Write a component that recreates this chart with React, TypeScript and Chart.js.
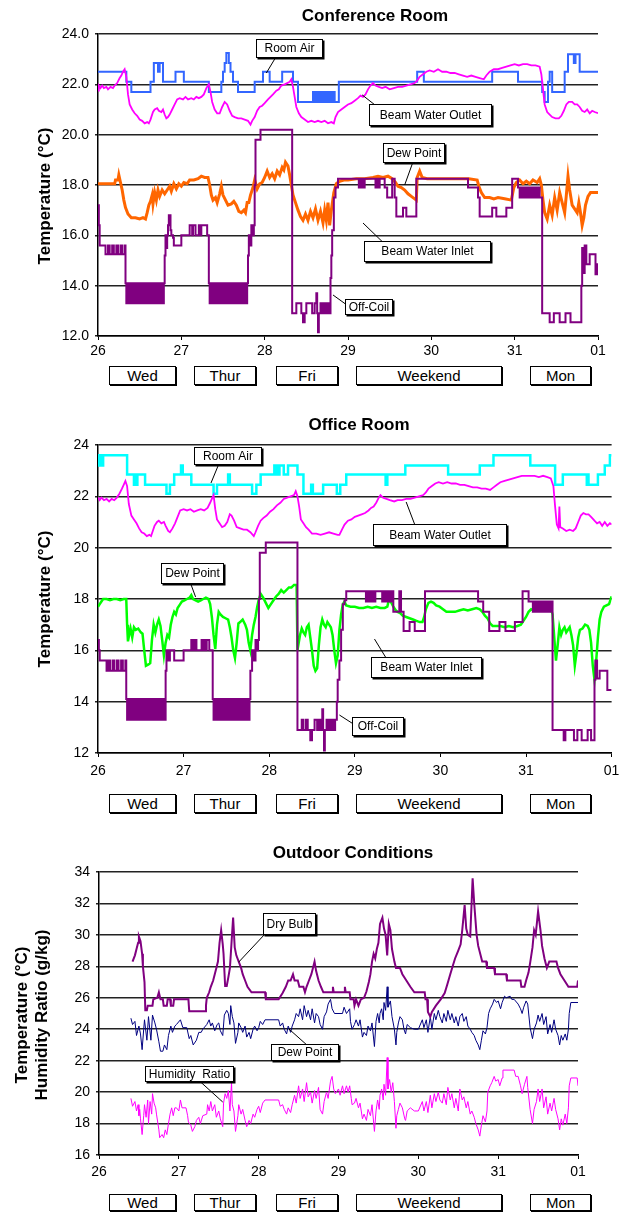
import React, { useEffect, useRef } from "react";
import { Chart, registerables } from "chart.js";

Chart.register(...registerables);

type P = [number, number];

const FONT = "'Liberation Sans', Arial, Helvetica, sans-serif";

const xTickLabels = ["26", "27", "28", "29", "30", "31", "01"];
const dayLabels = ["Wed", "Thur", "Fri", "Weekend", "Mon"];

// ---------------- Conference Room ----------------
const confRoomAir: P[] = [
  [26.0, 22.5], [26.34, 22.1], [26.4, 21.7], [26.63, 22.1], [26.67, 22.85], [26.72, 22.5], [26.74, 22.85], [26.78, 22.1],
  [26.93, 22.5], [27.03, 22.1], [27.33, 21.7], [27.48, 22.1], [27.5, 22.5], [27.52, 22.85], [27.54, 23.25], [27.57, 22.85],
  [27.59, 22.5], [27.62, 22.1], [27.68, 21.7], [27.88, 22.1], [27.98, 22.5], [28.06, 22.1], [28.21, 22.5], [28.34, 22.1],
  [28.4, 21.3], [28.58, 21.7], [28.6, 21.3], [28.62, 21.7], [28.64, 21.3], [28.66, 21.7], [28.68, 21.3], [28.7, 21.7],
  [28.72, 21.3], [28.74, 21.7], [28.76, 21.3], [28.78, 21.7], [28.8, 21.3], [28.82, 21.7], [28.84, 21.3], [28.89, 22.1],
  [29.83, 22.5], [29.91, 22.1], [30.73, 22.5], [31.04, 22.1], [31.33, 21.7], [31.36, 21.3], [31.4, 22.1], [31.42, 22.5],
  [31.45, 21.7], [31.6, 22.5], [31.64, 23.2], [31.71, 22.85], [31.73, 23.2], [31.78, 22.5], [32.0, 22.5],
];

const confOutlet: P[] = [
  [26.0, 21.75], [26.01, 21.95], [26.03, 21.85], [26.05, 21.95], [26.07, 21.85], [26.1, 21.9], [26.12, 21.8], [26.15, 21.9],
  [26.18, 21.85], [26.2, 21.95], [26.23, 22.05], [26.26, 22.25], [26.28, 22.35], [26.3, 22.5], [26.32, 22.6], [26.34, 22.3],
  [26.36, 21.6], [26.38, 21.2], [26.41, 21.0], [26.44, 20.85], [26.47, 20.75], [26.5, 20.6], [26.53, 20.55], [26.56, 20.45],
  [26.59, 20.5], [26.61, 20.45], [26.63, 20.6], [26.66, 20.9], [26.68, 21.0], [26.71, 21.05], [26.73, 20.95], [26.76, 20.9],
  [26.78, 21.0], [26.8, 20.8], [26.82, 20.65], [26.84, 20.7], [26.86, 20.8], [26.89, 21.0], [26.92, 21.2], [26.95, 21.4],
  [26.98, 21.45], [27.02, 21.4], [27.05, 21.5], [27.08, 21.4], [27.12, 21.45], [27.15, 21.4], [27.18, 21.5], [27.21, 21.45],
  [27.24, 21.5], [27.27, 21.6], [27.3, 21.85], [27.33, 22.0], [27.35, 21.7], [27.37, 21.3], [27.4, 21.0], [27.43, 20.85],
  [27.46, 20.85], [27.49, 21.1], [27.52, 21.3], [27.55, 21.2], [27.58, 20.95], [27.61, 20.75], [27.64, 20.7], [27.68, 20.65],
  [27.72, 20.65], [27.76, 20.6], [27.8, 20.55], [27.83, 20.4], [27.85, 20.55], [27.88, 20.7], [27.91, 20.95], [27.94, 21.1],
  [27.97, 21.15], [28.0, 21.25], [28.04, 21.4], [28.07, 21.5], [28.1, 21.6], [28.14, 21.75], [28.17, 21.8], [28.2, 21.95],
  [28.24, 22.0], [28.27, 22.05], [28.3, 22.1], [28.32, 22.2], [28.34, 21.9], [28.36, 21.5], [28.38, 21.1], [28.41, 20.85],
  [28.44, 20.7], [28.48, 20.6], [28.52, 20.5], [28.56, 20.55], [28.6, 20.5], [28.64, 20.55], [28.68, 20.5], [28.72, 20.55],
  [28.76, 20.45], [28.8, 20.5], [28.83, 20.45], [28.85, 20.7], [28.88, 20.9], [28.92, 21.0], [28.96, 21.1], [29.0, 21.2],
  [29.04, 21.25], [29.08, 21.35], [29.12, 21.45], [29.15, 21.55], [29.18, 21.5], [29.21, 21.6], [29.24, 21.8], [29.27, 21.95],
  [29.3, 22.05], [29.33, 21.95], [29.37, 21.9], [29.41, 21.85], [29.45, 21.9], [29.5, 21.8], [29.55, 21.85], [29.6, 21.9],
  [29.65, 21.9], [29.7, 21.95], [29.75, 22.0], [29.8, 22.05], [29.83, 22.15], [29.86, 22.3], [29.9, 22.4], [29.94, 22.5],
  [29.98, 22.55], [30.03, 22.5], [30.08, 22.6], [30.13, 22.5], [30.18, 22.5], [30.23, 22.45], [30.28, 22.45], [30.33, 22.4],
  [30.38, 22.35], [30.43, 22.3], [30.48, 22.35], [30.53, 22.3], [30.58, 22.25], [30.63, 22.2], [30.66, 22.35], [30.7, 22.5],
  [30.75, 22.6], [30.8, 22.6], [30.85, 22.65], [30.9, 22.7], [30.95, 22.75], [31.0, 22.8], [31.05, 22.75], [31.1, 22.8],
  [31.15, 22.8], [31.2, 22.75], [31.25, 22.75], [31.3, 22.7], [31.32, 22.4], [31.34, 21.8], [31.36, 21.2], [31.39, 20.9],
  [31.42, 20.8], [31.45, 20.7], [31.49, 20.65], [31.53, 20.65], [31.56, 20.75], [31.59, 20.95], [31.62, 21.2], [31.65, 21.3],
  [31.69, 21.3], [31.72, 21.2], [31.75, 21.2], [31.78, 21.1], [31.81, 20.95], [31.84, 20.9], [31.87, 21.0], [31.9, 20.85],
  [31.93, 20.95], [31.96, 20.9], [32.0, 20.85],
];

const confDewPoint: P[] = [
  [26.0, 18.05], [26.1, 18.05], [26.2, 18.05], [26.21, 18.2], [26.24, 18.2], [26.25, 18.4], [26.27, 18.1], [26.29, 17.8],
  [26.31, 17.4], [26.33, 17.1], [26.36, 16.85], [26.4, 16.7], [26.45, 16.7], [26.5, 16.65], [26.54, 16.7], [26.57, 16.65],
  [26.59, 16.9], [26.61, 17.2], [26.63, 17.35], [26.65, 17.6], [26.66, 17.25], [26.68, 17.7], [26.7, 17.4], [26.72, 17.8],
  [26.74, 17.55], [26.77, 17.8], [26.8, 17.65], [26.83, 17.8], [26.86, 17.95], [26.88, 17.75], [26.91, 18.05], [26.94, 17.85],
  [26.97, 18.05], [27.0, 17.95], [27.03, 18.1], [27.07, 18.05], [27.1, 18.2], [27.15, 18.2], [27.2, 18.25], [27.24, 18.35],
  [27.28, 18.3], [27.32, 18.3], [27.34, 18.0], [27.36, 17.6], [27.38, 17.4], [27.41, 17.5], [27.43, 17.3], [27.46, 17.65],
  [27.48, 17.95], [27.5, 17.6], [27.53, 17.4], [27.56, 17.2], [27.6, 17.25], [27.63, 17.35], [27.66, 17.2], [27.69, 16.95],
  [27.72, 16.9], [27.75, 17.0], [27.77, 16.9], [27.79, 17.3], [27.81, 17.3], [27.83, 17.6], [27.86, 17.9], [27.88, 18.2],
  [27.91, 17.85], [27.94, 18.05], [27.97, 18.1], [28.0, 18.3], [28.03, 18.55], [28.06, 18.3], [28.09, 18.45], [28.12, 18.25],
  [28.15, 18.55], [28.18, 18.4], [28.21, 18.7], [28.23, 18.6], [28.25, 18.9], [28.28, 18.75], [28.3, 18.4], [28.32, 18.0],
  [28.34, 17.6], [28.37, 17.3], [28.4, 17.0], [28.43, 16.75], [28.46, 16.6], [28.49, 16.85], [28.52, 16.6], [28.55, 16.95],
  [28.58, 16.7], [28.61, 17.05], [28.64, 16.6], [28.67, 16.95], [28.7, 16.5], [28.72, 17.0], [28.74, 16.6], [28.76, 17.3],
  [28.78, 16.4], [28.8, 17.0], [28.83, 17.7], [28.86, 18.05], [28.9, 18.15], [28.95, 18.2], [29.0, 18.2], [29.1, 18.25],
  [29.2, 18.25], [29.3, 18.3], [29.36, 18.35], [29.42, 18.3], [29.48, 18.35], [29.53, 18.25], [29.57, 18.1], [29.6, 17.95],
  [29.64, 17.9], [29.68, 17.8], [29.72, 17.65], [29.76, 17.55], [29.8, 17.45], [29.82, 17.4], [29.83, 18.3], [29.86, 18.55],
  [29.89, 18.3], [29.95, 18.25], [30.05, 18.25], [30.15, 18.25], [30.25, 18.25], [30.35, 18.25], [30.45, 18.25], [30.55, 18.2],
  [30.57, 17.95], [30.6, 17.7], [30.64, 17.5], [30.7, 17.5], [30.75, 17.45], [30.8, 17.5], [30.88, 17.45], [30.96, 17.4],
  [30.99, 17.9], [31.02, 18.1], [31.06, 18.2], [31.1, 18.05], [31.14, 18.15], [31.18, 18.05], [31.22, 18.2], [31.27, 18.1],
  [31.3, 18.25], [31.32, 18.0], [31.34, 17.4], [31.36, 16.9], [31.39, 16.65], [31.42, 17.2], [31.45, 16.8], [31.48, 17.5],
  [31.51, 17.0], [31.54, 17.7], [31.57, 17.3], [31.6, 16.9], [31.62, 17.6], [31.64, 18.35], [31.66, 17.8], [31.69, 17.2],
  [31.72, 17.05], [31.75, 16.9], [31.77, 17.3], [31.79, 16.9], [31.81, 16.4], [31.83, 16.7], [31.85, 17.2], [31.88, 17.55],
  [31.91, 17.7], [31.95, 17.7], [32.0, 17.7],
];

const confOffCoil: P[] = [
  [26.0, 17.2], [26.01, 16.4], [26.02, 15.6], [26.09, 15.25], [26.12, 15.6], [26.14, 15.25], [26.17, 15.6], [26.19, 15.25],
  [26.22, 15.6], [26.24, 15.25], [26.27, 15.6], [26.29, 15.25], [26.32, 15.6], [26.33, 14.1],
  [26.34, 13.3], [26.36, 14.1], [26.38, 13.3], [26.4, 14.1], [26.42, 13.3], [26.44, 14.1], [26.46, 13.3], [26.48, 14.1],
  [26.5, 13.3], [26.52, 14.1], [26.54, 13.3], [26.56, 14.1], [26.58, 13.3], [26.6, 14.1], [26.62, 13.3], [26.64, 14.1],
  [26.66, 13.3], [26.68, 14.1], [26.7, 13.3], [26.72, 14.1], [26.74, 13.3], [26.76, 14.1], [26.78, 13.3],
  [26.79, 14.1], [26.8, 15.2], [26.81, 16.0], [26.82, 15.5], [26.83, 16.0], [26.84, 16.4], [26.85, 16.8], [26.87, 16.2],
  [26.88, 16.0], [26.9, 15.9], [26.91, 15.6], [27.0, 16.0], [27.1, 16.4], [27.13, 16.0], [27.14, 16.4], [27.17, 16.0],
  [27.21, 16.4], [27.23, 16.0], [27.24, 16.4], [27.31, 16.0], [27.33, 14.1],
  [27.34, 13.3], [27.36, 14.1], [27.38, 13.3], [27.4, 14.1], [27.42, 13.3], [27.44, 14.1], [27.46, 13.3], [27.48, 14.1],
  [27.5, 13.3], [27.52, 14.1], [27.54, 13.3], [27.56, 14.1], [27.58, 13.3], [27.6, 14.1], [27.62, 13.3], [27.64, 14.1],
  [27.66, 13.3], [27.68, 14.1], [27.7, 13.3], [27.72, 14.1], [27.74, 13.3], [27.76, 14.1], [27.78, 13.3],
  [27.79, 14.1], [27.8, 15.2], [27.81, 16.0], [27.82, 15.6], [27.84, 16.4], [27.86, 16.0], [27.87, 16.4], [27.88, 18.0],
  [27.89, 19.8], [27.95, 20.2], [28.33, 12.9], [28.38, 13.3], [28.44, 12.9], [28.46, 12.55], [28.48, 12.9], [28.5, 13.3],
  [28.57, 12.9], [28.6, 13.3], [28.62, 13.7], [28.63, 12.9], [28.64, 12.15], [28.65, 12.9], [28.67, 13.3], [28.68, 12.9],
  [28.7, 13.3], [28.71, 12.9], [28.72, 13.3], [28.73, 12.9], [28.74, 13.3], [28.75, 12.9], [28.76, 13.3], [28.78, 12.9],
  [28.79, 14.3], [28.8, 15.2], [28.81, 16.2], [28.83, 17.5], [28.85, 17.9], [28.88, 18.25], [29.13, 17.9], [29.14, 18.25],
  [29.15, 17.9], [29.16, 18.25], [29.17, 17.9], [29.18, 18.25], [29.19, 17.9], [29.2, 18.25], [29.33, 17.9], [29.34, 18.25],
  [29.35, 17.9], [29.36, 18.25], [29.37, 17.9], [29.38, 18.25], [29.44, 17.9], [29.47, 17.5], [29.53, 18.25], [29.56, 17.5],
  [29.58, 16.75], [29.66, 17.1], [29.7, 16.75], [29.82, 18.25], [30.44, 17.9], [30.56, 17.5], [30.58, 16.75], [30.73, 17.1],
  [30.78, 16.75], [30.9, 17.1], [30.97, 18.25], [31.04, 17.9], [31.06, 17.5], [31.08, 17.9], [31.1, 17.5], [31.12, 17.9],
  [31.14, 17.5], [31.16, 17.9], [31.18, 17.5], [31.2, 17.9], [31.22, 17.5], [31.24, 17.9], [31.26, 17.5], [31.28, 17.9],
  [31.3, 17.5], [31.33, 12.9], [31.42, 12.55], [31.47, 12.9], [31.54, 12.55], [31.61, 12.9], [31.67, 12.55], [31.79, 12.55],
  [31.8, 14.0], [31.81, 15.5], [31.83, 14.5], [31.84, 15.6], [31.86, 14.85], [31.9, 15.25], [31.97, 14.45], [31.99, 14.85],
  [32.0, 14.85],
];

// ---------------- Office Room ----------------
const officeRoomAir: P[] = [
  [26.0, 23.2], [26.01, 23.6], [26.02, 23.2], [26.03, 23.6], [26.04, 23.2], [26.06, 23.6], [26.34, 22.85], [26.42, 22.45],
  [26.43, 22.85], [26.44, 22.45], [26.46, 22.85], [26.55, 22.45], [26.8, 22.1], [26.84, 22.45], [26.89, 22.85], [26.97, 23.2],
  [26.99, 22.85], [27.09, 22.45], [27.35, 22.1], [27.39, 22.45], [27.52, 22.85], [27.54, 22.45], [27.8, 22.1], [27.85, 22.45],
  [27.9, 22.85], [28.06, 23.2], [28.07, 22.85], [28.08, 23.2], [28.09, 22.85], [28.1, 23.2], [28.11, 22.85], [28.12, 23.2],
  [28.17, 22.85], [28.22, 23.2], [28.33, 22.85], [28.4, 22.1], [28.49, 22.45], [28.51, 22.1], [28.63, 22.45], [28.79, 22.1],
  [28.83, 22.45], [28.9, 22.85], [29.36, 22.45], [29.38, 22.85], [29.59, 23.2], [30.09, 22.85], [30.46, 23.2], [30.62, 23.6],
  [31.05, 23.2], [31.34, 22.45], [31.43, 22.85], [31.71, 22.45], [31.72, 22.85], [31.73, 22.45], [31.84, 22.85], [31.92, 23.2],
  [31.98, 23.6], [32.0, 23.6],
];

const officeOutlet: P[] = [
  [26.0, 21.95], [26.02, 21.85], [26.04, 21.95], [26.07, 21.85], [26.1, 21.9], [26.13, 21.8], [26.16, 21.9], [26.19, 21.85],
  [26.22, 21.95], [26.25, 22.1], [26.28, 22.3], [26.3, 22.45], [26.32, 22.6], [26.34, 22.4], [26.36, 21.7], [26.39, 21.25],
  [26.42, 21.1], [26.45, 20.95], [26.48, 20.75], [26.51, 20.6], [26.54, 20.55], [26.57, 20.45], [26.6, 20.5], [26.62, 20.45],
  [26.64, 20.65], [26.66, 20.85], [26.69, 21.0], [26.71, 21.05], [26.74, 20.95], [26.77, 21.0], [26.79, 20.85], [26.82, 20.65],
  [26.84, 20.6], [26.87, 20.75], [26.9, 20.95], [26.93, 21.2], [26.96, 21.45], [27.0, 21.5], [27.04, 21.45], [27.08, 21.5],
  [27.12, 21.4], [27.16, 21.45], [27.2, 21.5], [27.24, 21.45], [27.28, 21.55], [27.31, 21.75], [27.33, 21.9], [27.35, 22.05],
  [27.37, 21.5], [27.39, 21.1], [27.42, 20.95], [27.45, 20.8], [27.48, 20.85], [27.51, 21.0], [27.54, 21.3], [27.56, 21.25],
  [27.59, 21.05], [27.62, 20.8], [27.66, 20.75], [27.7, 20.7], [27.74, 20.7], [27.78, 20.6], [27.82, 20.45], [27.84, 20.6],
  [27.87, 20.85], [27.9, 21.05], [27.93, 21.15], [27.97, 21.25], [28.01, 21.4], [28.05, 21.5], [28.09, 21.65], [28.13, 21.75],
  [28.17, 21.9], [28.21, 21.95], [28.25, 22.0], [28.29, 22.05], [28.31, 22.2], [28.33, 22.0], [28.35, 21.6], [28.37, 21.1],
  [28.4, 20.95], [28.43, 20.8], [28.46, 20.7], [28.5, 20.55], [28.55, 20.55], [28.6, 20.5], [28.65, 20.55], [28.7, 20.6],
  [28.75, 20.55], [28.8, 20.5], [28.82, 20.5], [28.85, 20.7], [28.88, 20.9], [28.92, 21.05], [28.96, 21.1], [29.0, 21.2],
  [29.04, 21.25], [29.08, 21.3], [29.12, 21.35], [29.16, 21.45], [29.19, 21.55], [29.22, 21.6], [29.25, 21.75], [29.28, 21.95],
  [29.3, 22.05], [29.33, 21.95], [29.37, 21.9], [29.41, 21.85], [29.46, 21.8], [29.5, 21.85], [29.55, 21.85], [29.6, 21.9],
  [29.65, 21.9], [29.7, 21.95], [29.75, 22.0], [29.8, 22.05], [29.83, 22.15], [29.86, 22.3], [29.9, 22.4], [29.94, 22.5],
  [29.98, 22.55], [30.03, 22.5], [30.08, 22.55], [30.13, 22.5], [30.18, 22.5], [30.23, 22.45], [30.28, 22.45], [30.33, 22.4],
  [30.38, 22.35], [30.43, 22.35], [30.48, 22.3], [30.53, 22.3], [30.58, 22.25], [30.62, 22.35], [30.66, 22.45], [30.7, 22.55],
  [30.75, 22.6], [30.8, 22.65], [30.85, 22.7], [30.9, 22.75], [30.95, 22.8], [31.0, 22.8], [31.05, 22.8], [31.1, 22.8],
  [31.15, 22.75], [31.2, 22.8], [31.25, 22.75], [31.29, 22.7], [31.32, 22.4], [31.34, 21.6], [31.36, 20.9], [31.38, 20.75],
  [31.39, 21.6], [31.4, 20.8], [31.43, 20.75], [31.47, 20.65], [31.51, 20.7], [31.55, 20.65], [31.58, 20.75], [31.61, 21.0],
  [31.64, 21.25], [31.67, 21.35], [31.7, 21.3], [31.73, 21.3], [31.76, 21.2], [31.8, 21.05], [31.83, 20.95], [31.86, 21.0],
  [31.89, 20.85], [31.92, 21.0], [31.95, 20.85], [31.98, 20.95], [32.0, 20.9],
];

const officeDewPoint: P[] = [
  [26.0, 17.7], [26.02, 17.8], [26.04, 17.9], [26.06, 18.0], [26.1, 18.0], [26.14, 17.95], [26.18, 18.0], [26.22, 18.0],
  [26.26, 17.95], [26.3, 18.0], [26.33, 18.0], [26.34, 17.0], [26.35, 16.35], [26.37, 16.7], [26.38, 16.85], [26.4, 16.5],
  [26.42, 16.9], [26.44, 16.8], [26.47, 16.85], [26.5, 16.7], [26.52, 16.65], [26.54, 16.0], [26.56, 15.4], [26.59, 15.45],
  [26.61, 15.5], [26.63, 16.4], [26.65, 17.0], [26.67, 16.7], [26.69, 17.0], [26.71, 17.2], [26.73, 16.95], [26.75, 16.4],
  [26.77, 15.8], [26.79, 16.3], [26.81, 16.6], [26.83, 16.5], [26.85, 17.0], [26.87, 17.3], [26.89, 17.5], [26.91, 17.4],
  [26.93, 17.65], [26.96, 17.8], [26.98, 17.9], [27.01, 17.95], [27.04, 18.0], [27.07, 18.05], [27.09, 18.15], [27.11, 18.0],
  [27.14, 17.95], [27.17, 17.9], [27.2, 17.95], [27.23, 18.0], [27.26, 18.05], [27.29, 18.0], [27.31, 17.8], [27.33, 17.3],
  [27.35, 16.6], [27.37, 16.05], [27.39, 17.0], [27.41, 17.5], [27.43, 17.4], [27.46, 17.3], [27.49, 17.25], [27.52, 17.2],
  [27.54, 16.9], [27.56, 16.5], [27.58, 16.0], [27.6, 15.7], [27.62, 16.3], [27.64, 17.05], [27.66, 17.1], [27.69, 17.2],
  [27.72, 17.0], [27.74, 16.8], [27.76, 16.3], [27.78, 16.0], [27.8, 16.6], [27.82, 17.0], [27.84, 17.3], [27.86, 17.7],
  [27.88, 18.0], [27.9, 18.2], [27.93, 18.05], [27.96, 17.85], [27.99, 17.65], [28.02, 17.8], [28.05, 17.95], [28.08, 18.1],
  [28.11, 18.2], [28.14, 18.35], [28.17, 18.25], [28.2, 18.35], [28.23, 18.45], [28.26, 18.45], [28.29, 18.55], [28.32, 18.55],
  [28.33, 16.0], [28.36, 16.6], [28.38, 16.85], [28.4, 16.7], [28.42, 16.6], [28.44, 16.9], [28.46, 17.0], [28.48, 16.5],
  [28.5, 16.0], [28.52, 15.4], [28.54, 15.2], [28.56, 15.3], [28.58, 16.2], [28.6, 16.9], [28.62, 17.2], [28.64, 17.0],
  [28.66, 16.9], [28.68, 17.1], [28.7, 17.0], [28.72, 16.9], [28.74, 16.6], [28.76, 16.0], [28.78, 15.5], [28.8, 15.8],
  [28.82, 16.8], [28.84, 17.4], [28.86, 17.8], [28.88, 17.9], [28.9, 17.75], [28.95, 17.7], [29.0, 17.7], [29.05, 17.65],
  [29.1, 17.65], [29.15, 17.7], [29.2, 17.65], [29.25, 17.7], [29.3, 17.65], [29.35, 17.65], [29.38, 17.7], [29.4, 18.0],
  [29.42, 17.9], [29.45, 17.7], [29.48, 17.55], [29.5, 17.5], [29.53, 17.45], [29.56, 17.35], [29.6, 17.3], [29.64, 17.25],
  [29.68, 17.2], [29.72, 17.15], [29.76, 17.1], [29.79, 17.1], [29.81, 17.3], [29.83, 17.6], [29.86, 17.85], [29.89, 17.9],
  [29.92, 17.85], [29.95, 17.75], [29.99, 17.7], [30.03, 17.6], [30.07, 17.5], [30.12, 17.5], [30.17, 17.5], [30.22, 17.55],
  [30.27, 17.6], [30.32, 17.55], [30.37, 17.6], [30.42, 17.65], [30.46, 17.6], [30.49, 17.5], [30.52, 17.35], [30.55, 17.25],
  [30.58, 17.05], [30.61, 16.95], [30.65, 16.95], [30.7, 16.95], [30.75, 16.9], [30.8, 16.95], [30.85, 16.9], [30.9, 16.95],
  [30.94, 17.0], [30.97, 17.15], [31.0, 17.3], [31.03, 17.5], [31.06, 17.6], [31.1, 17.55], [31.14, 17.6], [31.18, 17.55],
  [31.22, 17.7], [31.26, 17.65], [31.29, 17.65], [31.31, 17.4], [31.33, 16.5], [31.35, 15.6], [31.37, 16.2], [31.39, 16.9],
  [31.41, 16.6], [31.43, 16.8], [31.45, 16.9], [31.47, 16.7], [31.49, 16.8], [31.51, 16.9], [31.53, 16.6], [31.55, 16.2],
  [31.57, 15.4], [31.59, 15.9], [31.61, 16.5], [31.63, 16.8], [31.66, 16.85], [31.69, 17.0], [31.72, 16.95], [31.74, 16.8],
  [31.76, 16.3], [31.78, 15.4], [31.8, 14.85], [31.82, 15.6], [31.84, 16.5], [31.86, 17.2], [31.88, 17.5], [31.91, 17.7],
  [31.94, 17.75], [31.97, 17.8], [32.0, 18.1],
];

const officeOffCoil: P[] = [
  [26.0, 16.4], [26.01, 16.0], [26.02, 15.6], [26.1, 15.2], [26.12, 15.6], [26.14, 15.2], [26.17, 15.6], [26.19, 15.2],
  [26.22, 15.6], [26.24, 15.2], [26.27, 15.6], [26.29, 15.2], [26.32, 15.6], [26.33, 14.1],
  [26.34, 13.3], [26.36, 14.1], [26.38, 13.3], [26.4, 14.1], [26.42, 13.3], [26.44, 14.1], [26.46, 13.3], [26.48, 14.1],
  [26.5, 13.3], [26.52, 14.1], [26.54, 13.3], [26.56, 14.1], [26.58, 13.3], [26.6, 14.1], [26.62, 13.3], [26.64, 14.1],
  [26.66, 13.3], [26.68, 14.1], [26.7, 13.3], [26.72, 14.1], [26.74, 13.3], [26.76, 14.1], [26.78, 13.3],
  [26.79, 15.2], [26.8, 16.0], [26.82, 15.6], [26.84, 16.0], [26.89, 15.6], [27.0, 16.0], [27.09, 16.4], [27.11, 16.0],
  [27.13, 16.4], [27.15, 16.0], [27.21, 16.4], [27.23, 16.0], [27.24, 16.4], [27.26, 16.0], [27.27, 16.4], [27.3, 16.0],
  [27.34, 14.1],
  [27.35, 13.3], [27.37, 14.1], [27.39, 13.3], [27.41, 14.1], [27.43, 13.3], [27.45, 14.1], [27.47, 13.3], [27.49, 14.1],
  [27.51, 13.3], [27.53, 14.1], [27.55, 13.3], [27.57, 14.1], [27.59, 13.3], [27.61, 14.1], [27.63, 13.3], [27.65, 14.1],
  [27.67, 13.3], [27.69, 14.1], [27.71, 13.3], [27.73, 14.1], [27.75, 13.3], [27.77, 14.1],
  [27.78, 15.2], [27.8, 16.0], [27.82, 15.6], [27.84, 16.4], [27.86, 16.0], [27.87, 16.4], [27.88, 18.0], [27.89, 19.8],
  [27.96, 20.2], [28.33, 12.9], [28.38, 13.3], [28.4, 12.9], [28.43, 13.3], [28.45, 12.9], [28.48, 12.5], [28.5, 12.9],
  [28.53, 13.3], [28.56, 12.9], [28.58, 13.3], [28.6, 12.9], [28.62, 13.7], [28.63, 12.9], [28.64, 12.1], [28.65, 12.9],
  [28.67, 13.3], [28.68, 12.9], [28.69, 13.3], [28.7, 12.9], [28.71, 13.3], [28.72, 12.9], [28.73, 13.3], [28.74, 12.9],
  [28.75, 13.3], [28.76, 12.9], [28.77, 13.3], [28.79, 14.0], [28.8, 14.85], [28.82, 15.6], [28.84, 16.8], [28.86, 17.8],
  [28.88, 17.95], [28.9, 18.3], [29.13, 17.9], [29.14, 18.3], [29.15, 17.9], [29.16, 18.3], [29.17, 17.9], [29.18, 18.3],
  [29.19, 17.9], [29.2, 18.3], [29.21, 17.9], [29.22, 18.3], [29.23, 17.9], [29.24, 18.3], [29.32, 17.9], [29.33, 18.3],
  [29.34, 17.9], [29.35, 18.3], [29.36, 17.9], [29.37, 18.3], [29.38, 17.9], [29.4, 18.3], [29.42, 17.9], [29.44, 18.3],
  [29.45, 17.5], [29.52, 18.3], [29.54, 17.5], [29.57, 16.75], [29.64, 17.1], [29.7, 16.75], [29.82, 18.3], [30.44, 17.9],
  [30.5, 17.5], [30.57, 16.75], [30.69, 17.1], [30.76, 16.75], [30.87, 17.1], [30.96, 18.3], [31.03, 17.9], [31.08, 17.5],
  [31.1, 17.9], [31.12, 17.5], [31.14, 17.9], [31.16, 17.5], [31.18, 17.9], [31.2, 17.5], [31.22, 17.9], [31.24, 17.5],
  [31.26, 17.9], [31.28, 17.5], [31.3, 17.9], [31.31, 12.9], [31.44, 12.5], [31.46, 12.9], [31.56, 12.5], [31.6, 12.9],
  [31.65, 12.5], [31.72, 12.9], [31.76, 12.5], [31.8, 14.85], [31.81, 15.6], [31.83, 14.9], [31.86, 15.2], [31.95, 14.45],
  [32.0, 14.45],
];

// ---------------- Outdoor Conditions ----------------
const outDryBulb: P[] = [
  [26.42, 28.3], [26.45, 28.7], [26.47, 29.1], [26.49, 29.5], [26.5, 29.9], [26.52, 29.6], [26.54, 28.8], [26.55, 28.0],
  [26.57, 27.0], [26.58, 25.2], [26.6, 25.2], [26.61, 25.5], [26.67, 25.5], [26.68, 25.9], [26.73, 26.0], [26.75, 26.35],
  [26.77, 25.9], [26.8, 25.9], [26.81, 25.5], [26.85, 25.5], [26.86, 25.9], [26.89, 25.9], [26.9, 25.5], [26.93, 25.5],
  [26.94, 25.9], [27.12, 25.9], [27.13, 25.15], [27.33, 25.15], [27.34, 25.5], [27.35, 26.0], [27.38, 26.35], [27.4, 26.7],
  [27.43, 27.1], [27.45, 27.5], [27.47, 27.9], [27.49, 28.3], [27.51, 29.5], [27.53, 30.3], [27.55, 29.4], [27.56, 28.8],
  [27.58, 26.75], [27.6, 26.75], [27.62, 27.3], [27.64, 27.9], [27.66, 29.5], [27.68, 31.1], [27.7, 29.2], [27.72, 28.7],
  [27.75, 28.3], [27.78, 27.9], [27.8, 27.5], [27.83, 27.1], [27.86, 26.7], [27.91, 26.35], [28.08, 26.35], [28.09, 25.9],
  [28.25, 25.9], [28.3, 26.3], [28.34, 26.7], [28.37, 27.1], [28.4, 27.1], [28.43, 27.5], [28.45, 27.1], [28.49, 27.1],
  [28.51, 26.7], [28.56, 26.7], [28.58, 26.35], [28.6, 26.7], [28.63, 27.1], [28.66, 27.5], [28.68, 27.9], [28.7, 28.3],
  [28.72, 27.7], [28.75, 27.1], [28.78, 26.7], [28.81, 26.35], [28.92, 26.35], [28.93, 26.7], [28.94, 26.35], [29.07, 26.35],
  [29.08, 26.7], [29.09, 26.35], [29.14, 26.35], [29.15, 25.9], [29.19, 25.9], [29.2, 25.5], [29.22, 25.9], [29.25, 25.5],
  [29.28, 25.9], [29.32, 26.0], [29.35, 26.4], [29.38, 27.0], [29.4, 27.5], [29.42, 28.3], [29.44, 28.8], [29.46, 28.5],
  [29.48, 29.1], [29.5, 29.5], [29.52, 30.7], [29.55, 31.1], [29.57, 30.4], [29.59, 30.0], [29.61, 28.7], [29.63, 30.7],
  [29.65, 30.3], [29.67, 29.1], [29.7, 28.3], [29.72, 27.9], [29.77, 27.9], [29.8, 27.5], [29.85, 27.1], [29.9, 26.7],
  [29.95, 26.35], [30.08, 26.35], [30.09, 25.9], [30.11, 25.9], [30.12, 25.1], [30.15, 24.8], [30.17, 25.1], [30.22, 25.5],
  [30.28, 25.9], [30.33, 26.3], [30.36, 26.8], [30.4, 27.5], [30.43, 28.0], [30.46, 28.5], [30.5, 29.0], [30.53, 29.4],
  [30.55, 30.3], [30.58, 31.9], [30.6, 30.4], [30.62, 30.0], [30.65, 29.9], [30.68, 33.6], [30.7, 32.0], [30.73, 30.0],
  [30.75, 29.3], [30.78, 28.7], [30.8, 28.3], [30.85, 28.3], [30.86, 27.9], [30.95, 27.9], [30.96, 27.5], [31.1, 27.5],
  [31.11, 27.1], [31.28, 27.1], [31.29, 26.7], [31.33, 26.7], [31.35, 27.1], [31.38, 27.6], [31.4, 28.2], [31.43, 29.2],
  [31.45, 30.3], [31.47, 30.0], [31.5, 31.5], [31.53, 30.3], [31.55, 29.3], [31.58, 28.5], [31.61, 27.9], [31.64, 28.3],
  [31.73, 28.3], [31.75, 27.9], [31.78, 27.5], [31.83, 27.1], [31.88, 26.7], [31.99, 26.7], [32.0, 27.1],
];

const outDewPoint: P[] = [
  [26.4, 24.7], [26.42, 24.3], [26.45, 24.5], [26.47, 23.6], [26.5, 24.2], [26.52, 23.7], [26.54, 22.7], [26.56, 24.0],
  [26.57, 24.6], [26.6, 23.3], [26.62, 24.8], [26.65, 23.3], [26.67, 24.9], [26.7, 24.4], [26.72, 24.0], [26.75, 23.2],
  [26.77, 22.6], [26.8, 22.6], [26.82, 23.0], [26.85, 22.7], [26.87, 23.6], [26.9, 24.2], [26.92, 23.8], [26.95, 24.2],
  [26.97, 24.3], [27.02, 24.6], [27.05, 24.1], [27.1, 24.1], [27.13, 23.4], [27.15, 23.6], [27.18, 23.0], [27.22, 23.3],
  [27.25, 23.8], [27.28, 23.8], [27.3, 24.0], [27.35, 24.3], [27.38, 24.6], [27.4, 24.2], [27.42, 24.4], [27.45, 23.9],
  [27.48, 24.3], [27.5, 24.4], [27.52, 23.9], [27.55, 23.6], [27.57, 24.9], [27.6, 25.2], [27.62, 25.0], [27.64, 24.3],
  [27.65, 25.5], [27.67, 24.8], [27.69, 24.4], [27.71, 23.1], [27.74, 23.8], [27.75, 24.4], [27.78, 24.1], [27.8, 23.8],
  [27.83, 24.2], [27.85, 23.5], [27.88, 23.8], [27.9, 23.4], [27.93, 24.0], [27.95, 24.2], [27.98, 23.9], [28.0, 24.1],
  [28.02, 24.5], [28.05, 24.3], [28.08, 24.6], [28.25, 24.6], [28.27, 24.2], [28.3, 24.4], [28.32, 24.0], [28.35, 23.7],
  [28.37, 24.2], [28.4, 23.8], [28.42, 24.2], [28.45, 24.6], [28.47, 25.0], [28.5, 24.8], [28.52, 25.3], [28.55, 24.6],
  [28.57, 25.5], [28.6, 24.8], [28.62, 25.2], [28.65, 24.6], [28.67, 25.3], [28.7, 24.4], [28.72, 25.0], [28.75, 24.8],
  [28.77, 24.3], [28.8, 24.0], [28.82, 24.8], [28.85, 25.1], [28.87, 25.6], [28.9, 25.9], [28.92, 25.3], [28.95, 25.0],
  [29.05, 25.0], [29.07, 25.4], [29.1, 25.0], [29.14, 25.3], [29.15, 24.5], [29.17, 24.0], [29.2, 24.3], [29.22, 24.6],
  [29.25, 24.2], [29.27, 24.6], [29.3, 23.5], [29.32, 23.8], [29.35, 23.6], [29.37, 24.2], [29.4, 23.9], [29.42, 24.4],
  [29.45, 22.9], [29.47, 24.5], [29.49, 25.0], [29.51, 24.4], [29.52, 25.0], [29.54, 25.3], [29.56, 24.6], [29.57, 25.7],
  [29.59, 25.2], [29.61, 26.7], [29.62, 25.4], [29.65, 25.8], [29.67, 24.8], [29.7, 24.0], [29.72, 23.0], [29.73, 23.8],
  [29.75, 24.4], [29.77, 24.8], [29.8, 24.6], [29.82, 24.0], [29.84, 23.7], [29.86, 24.3], [29.9, 24.1], [29.95, 24.0],
  [30.0, 24.0], [30.05, 24.6], [30.07, 24.1], [30.1, 24.6], [30.12, 23.8], [30.15, 24.8], [30.17, 24.0], [30.2, 25.0],
  [30.22, 24.6], [30.25, 25.2], [30.27, 24.8], [30.3, 24.4], [30.32, 25.0], [30.35, 24.5], [30.37, 25.2], [30.4, 24.6],
  [30.42, 25.0], [30.45, 24.4], [30.47, 24.8], [30.5, 24.2], [30.52, 24.8], [30.55, 25.0], [30.57, 24.5], [30.6, 24.8],
  [30.62, 24.2], [30.65, 24.0], [30.67, 23.8], [30.7, 23.6], [30.72, 23.3], [30.75, 23.0], [30.77, 22.7], [30.79, 23.3],
  [30.81, 23.9], [30.84, 23.7], [30.86, 24.1], [30.88, 25.0], [30.9, 25.3], [30.93, 25.6], [30.95, 25.9], [30.98, 25.7],
  [31.0, 25.8], [31.03, 25.3], [31.05, 25.7], [31.08, 26.1], [31.1, 26.0], [31.15, 26.1], [31.17, 25.9], [31.2, 25.9],
  [31.25, 25.6], [31.28, 25.3], [31.3, 25.0], [31.32, 25.4], [31.35, 25.8], [31.37, 25.6], [31.4, 24.1], [31.43, 23.4],
  [31.45, 24.0], [31.48, 24.4], [31.5, 24.9], [31.52, 24.5], [31.55, 25.0], [31.57, 24.3], [31.6, 24.8], [31.62, 23.7],
  [31.65, 24.3], [31.67, 23.8], [31.7, 24.6], [31.72, 24.0], [31.75, 23.6], [31.77, 23.0], [31.79, 23.6], [31.81, 23.3],
  [31.84, 23.7], [31.86, 23.3], [31.88, 24.0], [31.89, 25.0], [31.91, 25.7], [32.0, 25.7],
];

const outHumidityRatio: P[] = [
  [26.4, 19.6], [26.42, 19.1], [26.45, 19.4], [26.47, 18.8], [26.49, 19.2], [26.5, 18.5], [26.51, 18.9], [26.52, 18.3],
  [26.54, 17.3], [26.56, 18.5], [26.57, 19.2], [26.59, 18.4], [26.61, 19.5], [26.62, 18.0], [26.64, 19.4], [26.66, 18.6],
  [26.67, 19.9], [26.69, 19.3], [26.71, 19.0], [26.72, 18.6], [26.75, 17.6], [26.76, 17.1], [26.79, 17.3], [26.81, 17.1],
  [26.83, 17.6], [26.85, 17.3], [26.87, 18.0], [26.89, 18.6], [26.91, 19.0], [26.93, 18.5], [26.95, 19.0], [26.97, 19.0],
  [27.0, 18.8], [27.02, 19.5], [27.04, 19.0], [27.09, 19.0], [27.11, 18.5], [27.12, 18.1], [27.15, 17.9], [27.17, 17.5],
  [27.2, 17.8], [27.22, 18.2], [27.25, 18.4], [27.27, 18.0], [27.3, 18.5], [27.35, 18.6], [27.36, 19.2], [27.38, 18.8],
  [27.4, 19.4], [27.42, 18.8], [27.45, 19.2], [27.47, 18.4], [27.5, 18.8], [27.52, 18.3], [27.55, 17.8], [27.56, 19.3],
  [27.58, 19.9], [27.6, 19.6], [27.62, 20.1], [27.64, 18.8], [27.66, 20.6], [27.67, 19.2], [27.69, 18.8], [27.71, 17.5],
  [27.74, 18.5], [27.75, 19.2], [27.78, 18.6], [27.8, 18.9], [27.83, 18.2], [27.85, 17.8], [27.88, 18.2], [27.9, 18.0],
  [27.93, 18.6], [27.95, 18.4], [27.98, 18.9], [28.0, 19.1], [28.02, 18.7], [28.05, 19.3], [28.08, 19.5], [28.25, 19.5],
  [28.27, 19.1], [28.3, 19.2], [28.32, 18.9], [28.35, 18.6], [28.37, 19.0], [28.4, 18.7], [28.42, 19.2], [28.45, 19.8],
  [28.47, 19.3], [28.5, 20.4], [28.52, 19.6], [28.55, 20.2], [28.57, 19.4], [28.6, 20.6], [28.62, 19.7], [28.65, 20.0],
  [28.67, 19.3], [28.7, 20.1], [28.72, 19.6], [28.75, 20.3], [28.77, 18.9], [28.8, 18.6], [28.82, 19.4], [28.85, 20.0],
  [28.87, 19.6], [28.9, 20.7], [28.92, 21.0], [28.94, 20.2], [28.96, 19.9], [29.0, 20.2], [29.02, 19.8], [29.05, 20.4],
  [29.07, 19.9], [29.1, 20.4], [29.12, 20.0], [29.14, 20.4], [29.16, 19.6], [29.17, 19.2], [29.2, 19.3], [29.22, 19.6],
  [29.25, 19.0], [29.27, 19.3], [29.3, 18.3], [29.32, 18.6], [29.35, 18.2], [29.37, 18.9], [29.4, 18.5], [29.42, 19.2],
  [29.45, 17.5], [29.47, 18.8], [29.49, 19.5], [29.51, 18.9], [29.52, 19.8], [29.54, 20.2], [29.56, 19.5], [29.57, 20.5],
  [29.59, 19.8], [29.61, 22.2], [29.62, 20.2], [29.64, 20.8], [29.66, 20.0], [29.68, 20.6], [29.7, 19.4], [29.72, 17.7],
  [29.73, 18.5], [29.75, 18.9], [29.77, 19.3], [29.8, 19.0], [29.83, 18.3], [29.84, 18.2], [29.86, 18.8], [29.9, 19.0],
  [29.95, 18.8], [30.0, 18.8], [30.05, 19.4], [30.07, 18.8], [30.1, 19.4], [30.12, 18.7], [30.15, 19.8], [30.17, 19.0],
  [30.2, 19.9], [30.22, 19.4], [30.25, 20.0], [30.27, 19.5], [30.3, 19.3], [30.32, 19.9], [30.35, 19.2], [30.37, 20.3],
  [30.4, 19.5], [30.42, 19.9], [30.45, 19.0], [30.47, 19.6], [30.5, 18.8], [30.52, 20.2], [30.55, 19.5], [30.57, 19.7],
  [30.6, 19.0], [30.62, 19.4], [30.65, 18.6], [30.67, 18.8], [30.7, 18.4], [30.72, 18.0], [30.75, 17.6], [30.77, 17.2],
  [30.79, 17.9], [30.81, 18.5], [30.84, 18.1], [30.86, 18.8], [30.87, 20.0], [30.9, 20.4], [30.92, 20.6], [30.95, 21.0],
  [30.97, 20.7], [31.0, 20.8], [31.02, 20.4], [31.05, 20.9], [31.06, 21.4], [31.2, 21.4], [31.22, 21.0], [31.25, 21.0],
  [31.28, 20.4], [31.3, 19.9], [31.33, 20.5], [31.36, 21.0], [31.37, 20.3], [31.4, 18.9], [31.43, 18.0], [31.45, 18.9],
  [31.48, 19.4], [31.5, 20.2], [31.52, 19.4], [31.55, 20.2], [31.57, 19.0], [31.6, 19.7], [31.62, 18.6], [31.65, 19.3],
  [31.67, 18.8], [31.7, 19.6], [31.72, 18.9], [31.75, 18.3], [31.77, 17.6], [31.79, 18.3], [31.81, 17.9], [31.84, 18.6],
  [31.86, 18.0], [31.88, 19.0], [31.89, 20.4], [31.91, 20.9], [31.99, 20.9], [32.0, 20.4],
];

// ---------------- layout / configuration ----------------
interface Series { label: string; data: P[]; color: string; width: number; stepped?: boolean; }
interface Callout { text: string; anchor: P; box: P; w: number; h: number; from: P; }
interface PanelCfg {
  top: number; height: number;
  plot: { left: number; right: number; top: number; bottom: number };
  yMin: number; yMax: number; yStep: number; yDecimals: number;
  xLabelPad: number;
  title: string; titleX: number; titleY: number;
  yTitles: string[]; yTitleX: number[]; yTitleY: number;
  series: Series[];
  callouts: Callout[];
  dayBoxTop: number; dayBoxH: number;
}

const dayBoxX: [number, number][] = [[109, 176], [194, 256], [276, 338], [356, 502], [530, 591]];

const panels: PanelCfg[] = [
  {
    top: 0, height: 364,
    plot: { left: 98, right: 598, top: 34, bottom: 336 },
    yMin: 12, yMax: 24, yStep: 2, yDecimals: 1, xLabelPad: 3,
    title: "Conference Room", titleX: 375, titleY: 16,
    yTitles: ["Temperature (°C)"], yTitleX: [45], yTitleY: 196,
    series: [
      { label: "Off-Coil", data: confOffCoil, color: "#800080", width: 2, stepped: true },
      { label: "Dew Point", data: confDewPoint, color: "#ff6600", width: 3 },
      { label: "Beam Water Outlet", data: confOutlet, color: "#ff00ff", width: 1.8 },
      { label: "Room Air", data: confRoomAir, color: "#3366ff", width: 2, stepped: true },
    ],
    callouts: [
      { text: "Room Air", box: [28.29, 23.44], anchor: [28.02, 22.45], w: 66, h: 18, from: [0.29, 1] },
      { text: "Beam Water Outlet", box: [29.98, 20.8], anchor: [29.17, 21.58], w: 122, h: 21, from: [0.04, 0] },
      { text: "Dew Point", box: [29.79, 19.29], anchor: [29.68, 18.0], w: 61, h: 19, from: [0.48, 1] },
      { text: "Beam Water Inlet", box: [29.95, 15.38], anchor: [29.18, 16.49], w: 126, h: 20, from: [0.14, 0] },
      { text: "Off-Coil", box: [29.25, 13.19], anchor: [28.82, 13.63], w: 47, h: 15, from: [0, 0.3] },
    ],
    dayBoxTop: 366, dayBoxH: 19,
  },
  {
    top: 395, height: 390,
    plot: { left: 98, right: 620, top: 50, bottom: 358 },
    yMin: 12, yMax: 24, yStep: 2, yDecimals: 0, xLabelPad: 5.6,
    title: "Office Room", titleX: 359, titleY: 30,
    yTitles: ["Temperature (°C)"], yTitleX: [45], yTitleY: 204,
    series: [
      { label: "Off-Coil", data: officeOffCoil, color: "#800080", width: 2, stepped: true },
      { label: "Dew Point", data: officeDewPoint, color: "#00ff00", width: 2.5 },
      { label: "Beam Water Outlet", data: officeOutlet, color: "#ff00ff", width: 1.8 },
      { label: "Room Air", data: officeRoomAir, color: "#00ffff", width: 2.5, stepped: true },
    ],
    callouts: [
      { text: "Room Air", box: [27.51, 23.59], anchor: [27.32, 22.52], w: 67, h: 17, from: [0.36, 1] },
      { text: "Beam Water Outlet", box: [29.99, 20.51], anchor: [29.6, 21.78], w: 133, h: 21, from: [0.31, 0] },
      { text: "Dew Point", box: [27.1, 19.01], anchor: [27.14, 18.08], w: 62, h: 20, from: [0.47, 1] },
      { text: "Beam Water Inlet", box: [29.83, 15.35], anchor: [29.23, 16.44], w: 110, h: 20, from: [0.13, 0] },
      { text: "Off-Coil", box: [29.27, 13.05], anchor: [28.82, 13.48], w: 51, h: 18, from: [0, 0.33] },
    ],
    dayBoxTop: 794, dayBoxH: 19,
  },
  {
    top: 830, height: 355,
    plot: { left: 99, right: 578, top: 42, bottom: 325 },
    yMin: 16, yMax: 34, yStep: 2, yDecimals: 0, xLabelPad: 5.1,
    title: "Outdoor Conditions", titleX: 353, titleY: 23,
    yTitles: ["Temperature (°C)", "Humidity Ratio (g/kg)"], yTitleX: [22, 42], yTitleY: 185,
    series: [
      { label: "Dry Bulb", data: outDryBulb, color: "#800080", width: 2 },
      { label: "Dew Point", data: outDewPoint, color: "#000080", width: 1 },
      { label: "Humidity Ratio", data: outHumidityRatio, color: "#ff00ff", width: 1 },
    ],
    callouts: [
      { text: "Dry Bulb", box: [28.38, 30.72], anchor: [27.75, 28.27], w: 52, h: 21, from: [0.02, 1] },
      { text: "Dew Point", box: [28.58, 22.52], anchor: [28.38, 24.01], w: 67, h: 16, from: [0.52, 0] },
      { text: "Humidity  Ratio", box: [27.13, 21.18], anchor: [27.55, 19.37], w: 88, h: 15, from: [0.62, 1] },
    ],
    dayBoxTop: 1194, dayBoxH: 17,
  },
];

const X_AXIS_H = 24;

function makeDecor(cfg: PanelCfg) {
  return {
    id: "decor",
    afterDatasetsDraw(chart: any) {
      const { ctx, scales } = chart;
      const xs = scales.x, ys = scales.y;
      ctx.save();
      ctx.fillStyle = "#000";
      ctx.textAlign = "center";
      ctx.textBaseline = "middle";
      ctx.font = `bold 17px ${FONT}`;
      ctx.fillText(cfg.title, cfg.titleX, cfg.titleY);
      cfg.yTitles.forEach((t, i) => {
        ctx.save();
        ctx.translate(cfg.yTitleX[i], cfg.yTitleY);
        ctx.rotate(-Math.PI / 2);
        ctx.fillText(t, 0, 0);
        ctx.restore();
      });
      ctx.font = `12px ${FONT}`;
      for (const c of cfg.callouts) {
        const bx = xs.getPixelForValue(c.box[0]);
        const by = ys.getPixelForValue(c.box[1]);
        const ax = xs.getPixelForValue(c.anchor[0]);
        const ay = ys.getPixelForValue(c.anchor[1]);
        const l = Math.round(bx - c.w / 2) + 0.5;
        const t = Math.round(by - c.h / 2) + 0.5;
        const sx = l + c.from[0] * c.w;
        const sy = t + c.from[1] * c.h;
        ctx.strokeStyle = "#000";
        ctx.lineWidth = 1;
        ctx.beginPath();
        ctx.moveTo(sx, sy);
        ctx.lineTo(ax, ay);
        ctx.stroke();
        ctx.fillStyle = "#000";
        ctx.fillRect(l + 1, t + 1, c.w + 1, c.h + 1);
        ctx.fillStyle = "#fff";
        ctx.fillRect(l, t, c.w, c.h);
        ctx.strokeRect(l, t, c.w, c.h);
        ctx.fillStyle = "#000";
        ctx.fillText(c.text, l + c.w / 2, t + c.h / 2 + 0.5);
      }
      ctx.restore();
    },
  };
}

function buildConfig(cfg: PanelCfg): any {
  const tickFont = { family: FONT, size: 14 };
  return {
    type: "line",
    data: {
      datasets: cfg.series.map((s) => ({
        label: s.label,
        data: s.data.map(([x, y]) => ({ x, y })),
        borderColor: s.color,
        backgroundColor: s.color,
        borderWidth: s.width,
        pointRadius: 0,
        tension: 0,
        fill: false,
        stepped: s.stepped ? "before" : false,
      })),
    },
    options: {
      responsive: false,
      animation: false,
      events: [],
      layout: {
        padding: {
          left: 0,
          right: 625 - cfg.plot.right,
          top: cfg.plot.top,
          bottom: cfg.height - cfg.plot.bottom - X_AXIS_H,
        },
      },
      plugins: {
        legend: { display: false },
        tooltip: { enabled: false },
        title: { display: false },
      },
      scales: {
        x: {
          type: "linear",
          min: 26,
          max: 32,
          afterFit: (s: any) => { s.height = X_AXIS_H; },
          ticks: {
            stepSize: 1,
            autoSkip: false,
            maxRotation: 0,
            padding: cfg.xLabelPad,
            color: "#000",
            font: tickFont,
            callback: (v: number) => xTickLabels[Math.round(v - 26)],
          },
          grid: { drawOnChartArea: false, drawTicks: true, tickLength: 4, color: "#000", lineWidth: 1 },
          border: { display: true, color: "#000", width: 1.5 },
        },
        y: {
          type: "linear",
          min: cfg.yMin,
          max: cfg.yMax,
          afterFit: (s: any) => { s.width = cfg.plot.left; },
          ticks: {
            stepSize: cfg.yStep,
            padding: 6,
            color: "#000",
            font: tickFont,
            callback: (v: number) => v.toFixed(cfg.yDecimals),
          },
          grid: { color: "#222", lineWidth: 1.5, drawTicks: true, tickLength: 3 },
          border: { display: true, color: "#000", width: 1.5 },
        },
      },
    },
    plugins: [makeDecor(cfg)],
  };
}

function Panel({ cfg }: { cfg: PanelCfg }) {
  const ref = useRef<HTMLCanvasElement>(null);
  useEffect(() => {
    if (!ref.current) return;
    const chart = new Chart(ref.current, buildConfig(cfg));
    return () => chart.destroy();
  }, [cfg]);
  return (
    <>
      <canvas
        ref={ref}
        width={625}
        height={cfg.height}
        style={{ position: "absolute", left: 0, top: cfg.top, width: 625, height: cfg.height }}
      />
      {dayLabels.map((d, i) => (
        <div
          key={d}
          style={{
            position: "absolute",
            left: dayBoxX[i][0],
            top: cfg.dayBoxTop,
            width: dayBoxX[i][1] - dayBoxX[i][0],
            height: cfg.dayBoxH,
            boxSizing: "border-box",
            border: "1px solid #000",
            boxShadow: "1px 1px 0 #000",
            background: "#fff",
            fontFamily: FONT,
            fontSize: 15,
            lineHeight: `${cfg.dayBoxH - 2}px`,
            textAlign: "center",
            color: "#000",
          }}
        >
          {d}
        </div>
      ))}
    </>
  );
}

export default function App() {
  return (
    <div
      style={{
        position: "absolute",
        left: 0,
        top: 0,
        width: 625,
        height: 1212,
        background: "#fff",
        overflow: "hidden",
      }}
    >
      {panels.map((p) => (
        <Panel key={p.title} cfg={p} />
      ))}
    </div>
  );
}
